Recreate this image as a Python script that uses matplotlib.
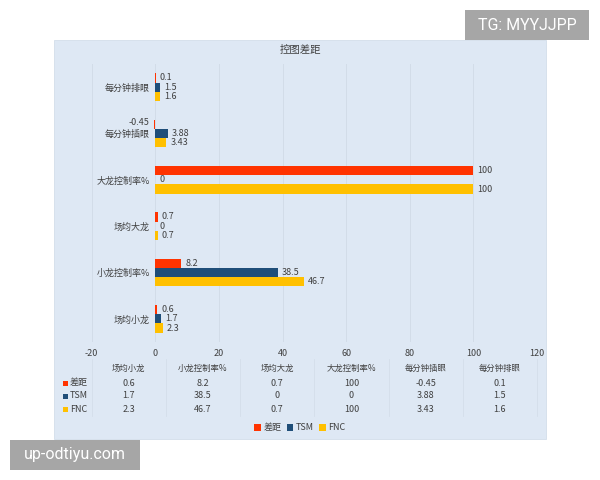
import matplotlib
matplotlib.use("Agg")
import matplotlib.pyplot as plt
import matplotlib.transforms as mtransforms
from matplotlib.patches import Rectangle, Patch
import numpy as np

plt.rcParams["font.family"] = ["Noto Sans CJK SC", "DejaVu Sans"]
plt.rcParams["axes.unicode_minus"] = False

categories = ["场均小龙", "小龙控制率%", "场均大龙", "大龙控制率%", "每分钟插眼", "每分钟排眼"]
series_names = ["差距", "TSM", "FNC"]
diff = [0.6, 8.2, 0.7, 100, -0.45, 0.1]
tsm = [1.7, 38.5, 0, 0, 3.88, 1.5]
fnc = [2.3, 46.7, 0.7, 100, 3.43, 1.6]
x_ticks = [-20, 0, 20, 40, 60, 80, 100, 120]

colors = ["#FF3300", "#1F4E79", "#FFC000"]
panel_color = "#DEE8F4"
grid_color = "#D2DCE8"
text_color = "#404040"

fig = plt.figure(figsize=(6, 4.8), dpi=100)
fig.patch.set_facecolor("white")

# light blue chart panel
fig.patches.append(Rectangle((54 / 600, 1 - 439 / 480), 492 / 600, 399 / 480,
                             transform=fig.transFigure, facecolor=panel_color,
                             edgecolor="#D3DEEA", lw=0.6, zorder=-1))

ax = fig.add_axes([91.7 / 600, 1 - 342 / 480, 445.3 / 600, 278 / 480])
ax.set_facecolor("none")

y = np.arange(len(categories))
h = 0.2
for vals, off, c in zip([diff, tsm, fnc], [h, 0, -h], colors):
    ax.barh(y + off, vals, height=h, color=c, zorder=3)
    for yi, v in zip(y, vals):
        if v < 0:
            ax.annotate(f"{v:g}", (v, yi + off), xytext=(-3, 1), textcoords="offset points",
                        ha="right", va="center", fontsize=6.5, color=text_color)
        else:
            ax.annotate(f"{v:g}", (v, yi + off), xytext=(3, 0), textcoords="offset points",
                        ha="left", va="center", fontsize=6.5, color=text_color)

ax.set_xlim(-20, 120)
ax.set_ylim(-0.5, len(categories) - 0.5)
ax.set_xticks(x_ticks)
ax.set_yticks(y)
ax.set_yticklabels(categories)
# category labels sit next to the zero line, like the Excel original
ax.spines["left"].set_position(("data", 0))
for s in ax.spines.values():
    s.set_visible(False)
ax.tick_params(axis="both", length=0, colors=text_color, labelsize=6.5)
ax.tick_params(axis="x", pad=5)
ax.tick_params(axis="y", pad=4)
ax.grid(axis="x", color=grid_color, lw=0.7, zorder=0)

fig.text(0.5, 1 - 50 / 480, "控图差距", ha="center", va="center", fontsize=7.5, color=text_color)

# data table under the axis, columns aligned with the plot width
trans = mtransforms.blended_transform_factory(ax.transAxes, fig.transFigure)
ncol = len(categories)
row_y = [1 - 368 / 480, 1 - 383 / 480, 1 - 396 / 480, 1 - 409 / 480]
for i, cat in enumerate(categories):
    cx = (i + 0.5) / ncol
    fig.text(cx, row_y[0], cat, transform=trans, ha="center", va="center", fontsize=6, color=text_color)
    for r, vals in enumerate([diff, tsm, fnc]):
        fig.text(cx, row_y[r + 1], f"{vals[i]:g}", transform=trans, ha="center", va="center",
                 fontsize=6.5, color=text_color)
for i in range(ncol + 1):
    fig.add_artist(plt.Line2D([i / ncol, i / ncol], [1 - 359 / 480, 1 - 416 / 480], transform=trans,
                              color=grid_color, lw=0.5))
for r, (name, c) in enumerate(zip(series_names, colors)):
    yy = row_y[r + 1]
    fig.patches.append(Rectangle((63 / 600, yy - 2.5 / 480), 5 / 600, 5 / 480,
                                 transform=fig.transFigure, facecolor=c, edgecolor="none"))
    fig.text(70 / 600, yy, name, ha="left", va="center", fontsize=6.5, color=text_color)

handles = [Patch(facecolor=c, edgecolor="none") for c in colors]
fig.legend(handles, series_names, loc="center", bbox_to_anchor=(0.5, 1 - 428 / 480), ncol=3,
           frameon=False, fontsize=6.5, handlelength=0.7, handleheight=0.7,
           handletextpad=0.3, columnspacing=0.6, labelcolor=text_color)

# watermark boxes
fig.patches.append(Rectangle((465 / 600, 1 - 40 / 480), 124 / 600, 30 / 480,
                             transform=fig.transFigure, facecolor="#A6A6A6", edgecolor="none", zorder=5))
fig.text(527 / 600, 1 - 25 / 480, "TG: MYYJJPP", ha="center", va="center", fontsize=11.5,
         color="white", family=["Roboto", "DejaVu Sans"], zorder=6)
fig.patches.append(Rectangle((10 / 600, 1 - 470 / 480), 130 / 600, 30 / 480,
                             transform=fig.transFigure, facecolor="#A6A6A6", edgecolor="none", zorder=5))
fig.text(75 / 600, 1 - 455 / 480, "up-odtiyu.com", ha="center", va="center", fontsize=11.5,
         color="white", family=["Roboto", "DejaVu Sans"], zorder=6)

fig.savefig("out.png", dpi=100)
